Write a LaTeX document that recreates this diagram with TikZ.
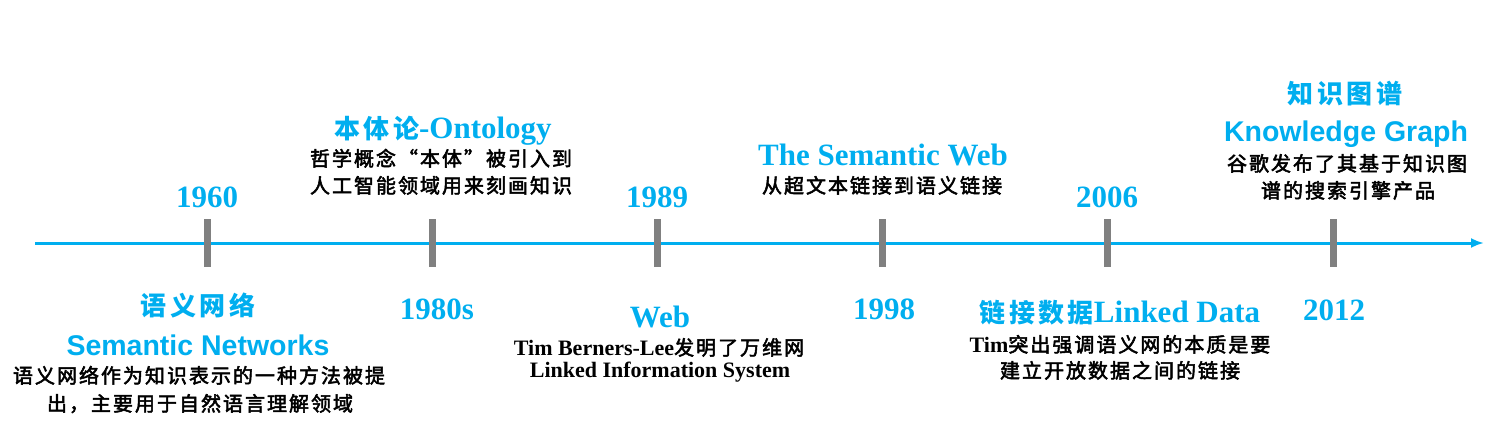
\documentclass[tikz,border=0pt]{standalone}
\usepackage{fontspec}
\setmainfont{Liberation Serif}
\newfontfamily\arialf{Liberation Sans}
\newfontfamily\cjkblue{Noto Sans CJK SC}[LetterSpace=13]
\newfontfamily\cjkb{Noto Sans CJK SC}[LetterSpace=10,FakeBold=2.5]
\usetikzlibrary{arrows.meta}
\definecolor{tlblue}{RGB}{0,174,239}
\definecolor{tickgray}{RGB}{128,128,128}
\newcommand\bcjk[1]{{\fontsize{26}{30}\selectfont\cjkblue #1}}
\newcommand\blat[1]{{\rmfamily\bfseries\fontsize{22}{26}\selectfont #1}}
\tikzset{
  year/.style={anchor=base, inner sep=0pt, text=tlblue, font=\fontsize{31}{36}\selectfont\bfseries},
  titlesans/.style={anchor=base, inner sep=0pt, text=tlblue, font=\fontsize{28.5}{34}\selectfont\arialf\bfseries},
  desc/.style={anchor=base, inner sep=0pt, text=black, font=\fontsize{20}{24}\selectfont\cjkb},
  desclat/.style={anchor=base, inner sep=0pt, text=black, font=\fontsize{22}{26}\selectfont\bfseries},
  tickmark/.style={draw=tickgray, line width=7pt},
  axisline/.style={draw=tlblue, line width=3pt, -{Latex[length=13pt,width=10pt]}}
}
\begin{document}
\begin{tikzpicture}[x=1pt,y=-1pt]
\useasboundingbox (0,0) rectangle (1495,423);
% axis
\coordinate (start) at (35,243);
\coordinate (end) at (1484,243);
\draw[axisline] (start) -- (end);
% ticks
\foreach \n/\x in {t1/207,t2/432,t3/657,t4/882,t5/1107,t6/1333}{
  \coordinate (\n a) at (\x,219);
  \coordinate (\n b) at (\x,267);
  \draw[tickmark] (\n a) -- (\n b);
}
% years
\node[year] (y1960) at (207,207) {1960};
\node[year] (y1980) at (437,319) {1980s};
\node[year] (y1989) at (657,207) {1989};
\node[year] (y1998) at (884,319) {1998};
\node[year] (y2006) at (1107,207) {2006};
\node[year] (y2012) at (1334,320) {2012};
% 1960
\node[year] (sn1) at (198,315) {\bcjk{语义网络}};
\node[titlesans] (sn2) at (198,355) {Semantic Networks};
\node[desc] (sn3) at (199,383) {语义网络作为知识表示的一种方法被提};
\node[desc] (sn4) at (200,411) {出，主要用于自然语言理解领域};
% 1980s
\node[year] (on1) at (443,138) {\bcjk{本体论}-Ontology};
\node[desc] (on2) at (441,166) {哲学概念“本体”被引入到};
\node[desc] (on3) at (441,193) {人工智能领域用来刻画知识};
% 1989
\node[year] (wb1) at (660,327) {Web};
\node[desc] (wb2) at (659,355) {\blat{Tim Berners-Lee}发明了万维网};
\node[desclat] (wb3) at (660,377) {Linked Information System};
% 1998
\node[year] (sw1) at (883,165) {The Semantic Web};
\node[desc] (sw2) at (882,193) {从超文本链接到语义链接};
% 2006
\node[year] (ld1) at (1120,322) {\bcjk{链接数据}Linked Data};
\node[desc] (ld2) at (1120,352) {\blat{Tim}突出强调语义网的本质是要};
\node[desc] (ld3) at (1120,378) {建立开放数据之间的链接};
% 2012
\node[year] (kg1) at (1345,103) {\bcjk{知识图谱}};
\node[titlesans] (kg2) at (1346,141) {Knowledge Graph};
\node[desc] (kg3) at (1347,171) {谷歌发布了其基于知识图};
\node[desc] (kg4) at (1348,198) {谱的搜索引擎产品};
\end{tikzpicture}
\end{document}
